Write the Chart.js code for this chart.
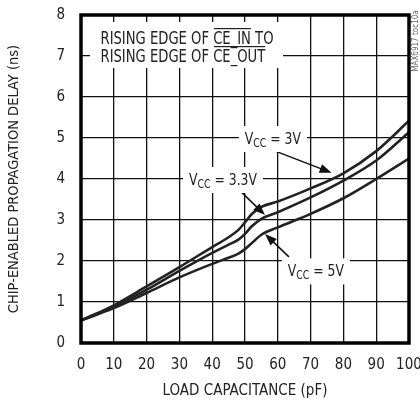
<!DOCTYPE html>
<html>
<head>
<meta charset="utf-8">
<script src="https://cdn.jsdelivr.net/npm/chart.js@4/dist/chart.umd.min.js"></script>
<style>
    html, body { margin: 0; padding: 0; background: #fff; }
    #wrap { width: 420px; height: 402px; position: relative; }
</style>
</head>
<body>
<div id="wrap"><canvas id="chart"></canvas></div>
<script>
// --- Data -----------------------------------------------------------------------
const capacitance = [0, 10, 20, 30, 40, 45, 48, 50, 52, 55, 60, 70, 80, 90, 100]
const delayVcc3 = [0.55, 0.92, 1.38, 1.85, 2.34, 2.58, 2.76, 2.94, 3.14, 3.32, 3.45, 3.77, 4.14, 4.68, 5.42]
const delayVcc33 = [0.55, 0.88, 1.30, 1.76, 2.20, 2.40, 2.52, 2.66, 2.84, 3.03, 3.19, 3.55, 3.96, 4.45, 5.14]
const delayVcc5 = [0.55, 0.85, 1.22, 1.60, 1.93, 2.08, 2.18, 2.29, 2.43, 2.64, 2.82, 3.15, 3.53, 4.00, 4.50]

const xTicks = [0, 10, 20, 30, 40, 50, 60, 70, 80, 90, 100]
const yTicks = [0, 1, 2, 3, 4, 5, 6, 7, 8]

const FONT = "'DejaVu Sans Condensed', 'Liberation Sans Narrow', sans-serif"
// squeeze for hand-drawn text, the original uses a narrow face
const SQUEEZE = 0.86

function toPoints(ys) {
    return capacitance.map((c, i) => ({ x: c, y: ys[i] }))
}

// --- Annotation drawing ---------------------------------------------------------
const vccLabels = [
    { value: '3V', x: 58.5, y: 5.0 },
    { value: '3.3V', x: 43.3, y: 4.0 },
    { value: '5V', x: 71.6, y: 1.77 }
]
// [fromX, fromY, toX, toY] in data units
const vccArrows = [
    [56.7, 4.76, 76.4, 4.15],
    [47.9, 3.76, 56.1, 3.12],
    [63.4, 2.1, 56.1, 2.66]
]

function drawVcc(ctx, cx, cy, value) {
    const big = `16px ${FONT}`
    const small = `12px ${FONT}`
    ctx.font = big
    const wV = ctx.measureText('V').width
    const wRest = ctx.measureText(' = ' + value).width
    ctx.font = small
    const wCC = ctx.measureText('CC').width
    const total = (wV + wCC + wRest) * SQUEEZE

    ctx.fillStyle = '#fff'
    ctx.fillRect(cx - total / 2 - 6, cy - 12, total + 12, 26)

    ctx.save()
    ctx.translate(cx - total / 2, cy)
    ctx.scale(SQUEEZE, 1)
    let x = 0
    ctx.fillStyle = '#222'
    ctx.textBaseline = 'alphabetic'
    ctx.textAlign = 'left'
    ctx.font = big
    ctx.fillText('V', x, 6)
    x += wV
    ctx.font = small
    ctx.fillText('CC', x, 9)
    x += wCC
    ctx.font = big
    ctx.fillText(' = ' + value, x, 6)
    ctx.restore()
}

function drawArrow(ctx, x1, y1, x2, y2) {
    const ang = Math.atan2(y2 - y1, x2 - x1)
    const head = 12
    ctx.strokeStyle = '#111'
    ctx.fillStyle = '#111'
    ctx.lineWidth = 1.5
    ctx.beginPath()
    ctx.moveTo(x1, y1)
    ctx.lineTo(x2 - Math.cos(ang) * head * 0.8, y2 - Math.sin(ang) * head * 0.8)
    ctx.stroke()
    ctx.beginPath()
    ctx.moveTo(x2, y2)
    ctx.lineTo(x2 - head * Math.cos(ang) + 4.5 * Math.sin(ang), y2 - head * Math.sin(ang) - 4.5 * Math.cos(ang))
    ctx.lineTo(x2 - head * Math.cos(ang) - 4.5 * Math.sin(ang), y2 - head * Math.sin(ang) + 4.5 * Math.cos(ang))
    ctx.closePath()
    ctx.fill()
}

const annotations = {
    id: 'annotations',
    afterDatasetsDraw(chart) {
        const ctx = chart.ctx
        const xs = chart.scales.x
        const ys = chart.scales.y
        const area = chart.chartArea
        ctx.save()

        // Condition box, top left
        ctx.fillStyle = '#fff'
        ctx.fillRect(90, 22, 193, 46)
        ctx.save()
        ctx.translate(100.5, 0)
        ctx.scale(SQUEEZE, 1)
        ctx.fillStyle = '#222'
        ctx.font = `17px ${FONT}`
        ctx.textAlign = 'left'
        ctx.textBaseline = 'alphabetic'
        const pre = 'RISING EDGE OF '
        const l1 = [{ t: pre }, { t: 'CE_IN', over: true }, { t: ' TO' }]
        const l2 = [{ t: pre }, { t: 'CE_OUT', over: true }]
        ;[[l1, 43.5], [l2, 61.5]].forEach(([parts, base]) => {
            let x = 0
            parts.forEach(p => {
                ctx.fillText(p.t, x, base)
                const w = ctx.measureText(p.t).width
                if (p.over) {
                    ctx.fillRect(x + 1, base - 15.5, w - 1, 1.2)
                }
                x += w
            })
        })
        ctx.restore()

        vccArrows.forEach(a => {
            drawArrow(ctx, xs.getPixelForValue(a[0]), ys.getPixelForValue(a[1]),
                xs.getPixelForValue(a[2]), ys.getPixelForValue(a[3]))
        })
        vccLabels.forEach(l => {
            drawVcc(ctx, xs.getPixelForValue(l.x), ys.getPixelForValue(l.y), l.value)
        })

        // Heavy frame around the plot
        ctx.strokeStyle = '#000'
        ctx.lineWidth = 3.5
        ctx.strokeRect(area.left, area.top, area.right - area.left, area.bottom - area.top)

        // Figure code on the right edge
        ctx.translate(416, 41)
        ctx.rotate(-Math.PI / 2)
        ctx.fillStyle = '#666'
        ctx.font = `8px ${FONT}`
        ctx.textAlign = 'center'
        ctx.textBaseline = 'middle'
        ctx.fillText('MAX6917 toc10a', 0, 0)
        ctx.restore()
    }
}

// --- Chart ----------------------------------------------------------------------
const curve = (label, ys) => ({
    label: label,
    data: toPoints(ys),
    borderColor: '#222',
    borderWidth: 2.6,
    pointRadius: 0,
    fill: false,
    cubicInterpolationMode: 'monotone'
})

new Chart(document.getElementById('chart'), {
    type: 'line',
    data: {
        datasets: [
            curve('VCC = 3V', delayVcc3),
            curve('VCC = 3.3V', delayVcc33),
            curve('VCC = 5V', delayVcc5)
        ]
    },
    options: {
        responsive: true,
        maintainAspectRatio: false,
        animation: false,
        devicePixelRatio: 1,
        layout: { padding: { top: 15, right: 11, left: 0, bottom: 0 } },
        plugins: {
            legend: { display: false },
            tooltip: { enabled: false }
        },
        scales: {
            x: {
                type: 'linear',
                min: 0,
                max: 100,
                // fixed band under the plot, no extra room for the end labels
                afterFit: s => { s.height = 59; s.paddingLeft = 0; s.paddingRight = 0 },
                afterBuildTicks: s => { s.ticks = xTicks.map(v => ({ value: v })) },
                grid: { color: '#111', lineWidth: 1.3, drawTicks: false },
                border: { display: false },
                ticks: {
                    color: '#222', padding: 13, maxRotation: 0, minRotation: 0, autoSkip: false,
                    font: { family: FONT, size: 15 }
                },
                title: {
                    display: true,
                    text: 'LOAD CAPACITANCE (pF)',
                    color: '#222',
                    font: { family: FONT, size: 15 },
                    padding: { top: 0, bottom: 2 }
                }
            },
            y: {
                type: 'linear',
                min: 0,
                max: 8,
                afterFit: s => { s.width = 81; s.paddingTop = 0; s.paddingBottom = 0 },
                afterBuildTicks: s => { s.ticks = yTicks.map(v => ({ value: v })) },
                grid: { color: '#111', lineWidth: 1.3, drawTicks: false },
                border: { display: false },
                ticks: { color: '#222', padding: 16, font: { family: FONT, size: 15 } },
                title: {
                    display: true,
                    text: 'CHIP-ENABLED PROPAGATION DELAY (ns)',
                    color: '#222',
                    font: { family: FONT, size: 14.5 },
                    padding: { top: 6, bottom: 0 }
                }
            }
        }
    },
    plugins: [annotations]
})
</script>
</body>
</html>
